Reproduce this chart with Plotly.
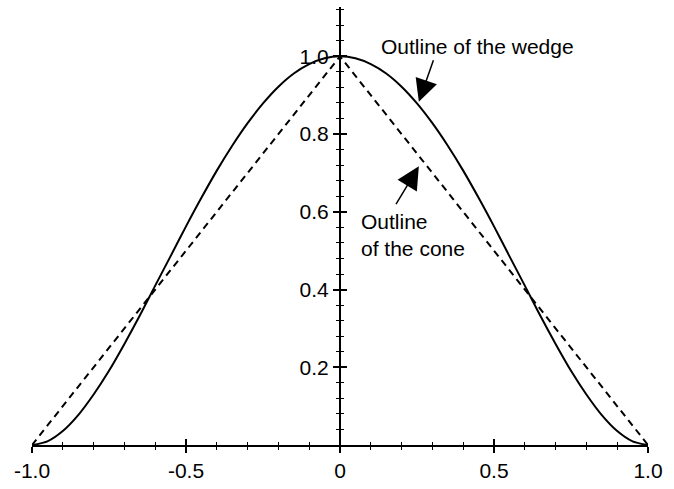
import plotly.graph_objects as go

# Outline of the wedge (solid curve), sampled across the profile
wedge_x = [-1.0, -0.95, -0.9, -0.85, -0.8, -0.75, -0.7, -0.65, -0.6, -0.55,
           -0.5, -0.45, -0.4, -0.35, -0.3, -0.25, -0.2, -0.15, -0.1, -0.05,
           0.0,
           0.05, 0.1, 0.15, 0.2, 0.25, 0.3, 0.35, 0.4, 0.45, 0.5,
           0.55, 0.6, 0.65, 0.7, 0.75, 0.8, 0.85, 0.9, 0.95, 1.0]
wedge_y = [0.0, 0.0095, 0.036, 0.077, 0.13, 0.191, 0.26, 0.333, 0.41, 0.486,
           0.5625, 0.636, 0.706, 0.77, 0.828, 0.879, 0.922, 0.956, 0.98, 0.995,
           1.0,
           0.995, 0.98, 0.956, 0.922, 0.879, 0.828, 0.77, 0.706, 0.636, 0.5625,
           0.486, 0.41, 0.333, 0.26, 0.191, 0.13, 0.077, 0.036, 0.0095, 0.0]

# Outline of the cone (dashed line)
cone_x = [-1.0, 0.0, 1.0]
cone_y = [0.0, 1.0, 0.0]

x_tick_vals = [-1.0, -0.5, 0.0, 0.5, 1.0]
x_tick_text = ["-1.0", "-0.5", "0", "0.5", "1.0"]
y_tick_vals = [0.2, 0.4, 0.6, 0.8, 1.0]
y_tick_text = ["0.2", "0.4", "0.6", "0.8", "1.0"]

FONT = "Liberation Sans, Arial, Helvetica, sans-serif"
X_RANGE = [-1.0, 1.0]
Y_RANGE = [0.0, 1.127]

fig = go.Figure()

fig.add_trace(go.Scatter(
    x=cone_x, y=cone_y, mode="lines",
    line=dict(color="black", width=2, dash="7px,5px"),
    hoverinfo="skip", showlegend=False,
))
fig.add_trace(go.Scatter(
    x=wedge_x, y=wedge_y, mode="lines",
    line=dict(color="black", width=2, shape="spline", smoothing=0.8),
    hoverinfo="skip", showlegend=False,
))
# invisible trace so the second pair of axes (inner tick halves) is drawn
fig.add_trace(go.Scatter(
    x=[0], y=[0], xaxis="x2", yaxis="y2", mode="markers",
    marker=dict(opacity=0), hoverinfo="skip", showlegend=False,
))

common_x = dict(
    range=X_RANGE, showgrid=False, zeroline=False,
    showline=True, linecolor="black", linewidth=2,
    tickvals=x_tick_vals, ticklen=6, tickwidth=1.5, tickcolor="black",
    minor=dict(dtick=0.1, tick0=0, ticklen=3, tickwidth=1, tickcolor="black"),
)
common_y = dict(
    range=Y_RANGE, showgrid=False, zeroline=False,
    showline=True, linecolor="black", linewidth=2,
    tickvals=y_tick_vals, ticklen=6, tickwidth=1.5, tickcolor="black",
    minor=dict(dtick=0.04, tick0=0, ticklen=3, tickwidth=1, tickcolor="black"),
    anchor="free", position=0.5,
)

fig.update_layout(
    width=674, height=489,
    margin=dict(l=32, r=26, t=7, b=34),
    paper_bgcolor="white", plot_bgcolor="white",
    font=dict(family=FONT, size=21, color="black"),
    xaxis=dict(**common_x, ticks="outside", ticktext=x_tick_text,
               showticklabels=True, tickfont=dict(size=21),
               minor_ticks="outside"),
    yaxis=dict(**common_y, ticks="outside", ticktext=y_tick_text,
               showticklabels=True, tickfont=dict(size=21),
               minor_ticks="outside"),
    xaxis2=dict(**common_x, ticks="inside", showticklabels=False,
                overlaying="x", anchor="y2", minor_ticks="inside"),
    yaxis2=dict(**common_y, ticks="inside", showticklabels=False,
                overlaying="y", minor_ticks="inside"),
)

# labels with pointer arrows
fig.add_annotation(
    x=0.125, y=1.026, xref="x", yref="y", text="Outline of the wedge",
    showarrow=False, xanchor="left", yanchor="middle",
    font=dict(family=FONT, size=21, color="black"),
)
fig.add_annotation(
    x=0.256, y=0.883, ax=0.305, ay=0.994, xref="x", yref="y",
    axref="x", ayref="y", text="", showarrow=True,
    arrowhead=2, arrowsize=3, arrowwidth=1.5, arrowcolor="black",
)
fig.add_annotation(
    x=0.062, y=0.541, xref="x", yref="y", text="Outline<br>of the cone",
    showarrow=False, xanchor="left", yanchor="middle", align="left",
    font=dict(family=FONT, size=21, color="black"),
)
fig.add_annotation(
    x=0.256, y=0.717, ax=0.179, ay=0.616, xref="x", yref="y",
    axref="x", ayref="y", text="", showarrow=True,
    arrowhead=2, arrowsize=3, arrowwidth=1.5, arrowcolor="black",
)

fig.write_html("out.html")
